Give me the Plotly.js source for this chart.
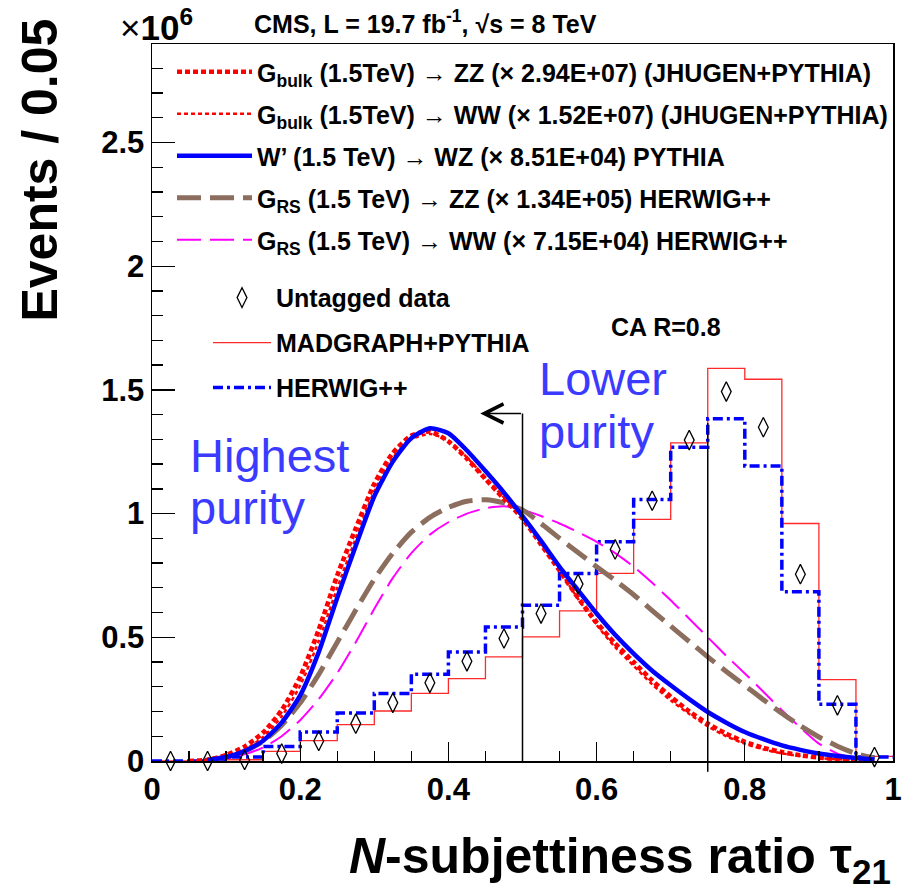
<!DOCTYPE html>
<html>
<head>
<meta charset="utf-8">
<script src="https://cdn.plot.ly/plotly-3.0.1.min.js"></script>
<style>html,body{margin:0;padding:0;background:#fff;}#chart{width:908px;height:891px;}</style>
</head>
<body>
<div id="chart"></div>
<script>
// ---- Data (y values in units of 10^6 events per 0.05) ----
const binEdges = [0,0.05,0.1,0.15,0.2,0.25,0.3,0.35,0.4,0.45,0.5,0.55,0.6,0.65,0.7,0.75,0.8,0.85,0.9,0.95,1.0];
const madgraphPythia = [0,0,0.005,0.039,0.082,0.147,0.202,0.273,0.333,0.421,0.502,0.607,0.758,0.977,1.286,1.587,1.543,0.960,0.329,0.019];
const herwigPP       = [0,0,0.016,0.059,0.117,0.194,0.273,0.351,0.441,0.542,0.630,0.758,0.886,1.057,1.268,1.383,1.192,0.684,0.229,0.016];
const untaggedData   = [0,0,0.004,0.030,0.081,0.151,0.235,0.316,0.403,0.495,0.596,0.715,0.855,1.052,1.297,1.493,1.349,0.755,0.225,0.016];

const sigX = [0.05,0.075,0.1,0.125,0.15,0.175,0.2,0.225,0.25,0.275,0.3,0.325,0.35,0.375,0.4,0.425,0.45,0.475,0.5,0.525,0.55,0.575,0.6,0.625,0.65,0.675,0.7,0.725,0.75,0.775,0.8,0.825,0.85,0.875,0.9,0.925,0.95,0.975,1.0];
const gbulkZZ  = [0,0.005,0.024,0.058,0.115,0.205,0.34,0.53,0.75,0.94,1.12,1.245,1.315,1.332,1.292,1.222,1.14,1.06,0.98,0.875,0.77,0.66,0.56,0.475,0.4,0.325,0.26,0.2,0.151,0.11,0.077,0.053,0.036,0.023,0.014,0.008,0.005,0.002,null];
const gbulkWW  = [0,0.004,0.018,0.046,0.097,0.18,0.305,0.485,0.7,0.9,1.09,1.225,1.3,1.322,1.295,1.227,1.145,1.065,0.985,0.88,0.77,0.655,0.55,0.46,0.385,0.31,0.245,0.19,0.14,0.1,0.07,0.047,0.031,0.02,0.012,0.007,0.004,0.002,null];
const wprimeWZ = [null,0.003,0.016,0.04,0.082,0.155,0.265,0.44,0.66,0.87,1.07,1.21,1.305,1.345,1.325,1.255,1.172,1.085,0.99,0.89,0.785,0.69,0.596,0.51,0.434,0.365,0.306,0.25,0.198,0.155,0.117,0.088,0.063,0.045,0.03,0.02,0.012,0.006,null];
const grsZZ    = [null,0.004,0.016,0.04,0.08,0.145,0.235,0.35,0.48,0.61,0.735,0.84,0.925,0.985,1.025,1.05,1.056,1.043,1.015,0.96,0.9,0.843,0.785,0.73,0.672,0.608,0.545,0.483,0.421,0.362,0.305,0.248,0.193,0.142,0.097,0.06,0.03,0.012,null];
const grsWW    = [null,0.002,0.009,0.027,0.055,0.1,0.165,0.25,0.355,0.48,0.615,0.74,0.84,0.915,0.965,1.0,1.022,1.03,1.015,0.99,0.96,0.925,0.886,0.84,0.785,0.72,0.65,0.575,0.5,0.425,0.354,0.28,0.205,0.135,0.07,0.03,0.01,null,null];

const cutValues = [0.5, 0.75];
const cutTops = [1.405, 1.366];
const arrowTip = 0.443;

const seriesNames = [
  'G<sub>bulk</sub> (1.5TeV) → ZZ (× 2.94E+07) (JHUGEN+PYTHIA)',
  'G<sub>bulk</sub> (1.5TeV) → WW (× 1.52E+07) (JHUGEN+PYTHIA)',
  'W’ (1.5 TeV) → WZ (× 8.51E+04) PYTHIA',
  'G<sub>RS</sub> (1.5 TeV) → ZZ (× 1.34E+05) HERWIG++',
  'G<sub>RS</sub> (1.5 TeV) → WW (× 7.15E+04) HERWIG++',
  'Untagged data',
  'MADGRAPH+PYTHIA',
  'HERWIG++'
];

// ---- derived ----
const binWidth = binEdges[1] - binEdges[0];
const binCenters = binEdges.slice(0, -1).map(e => e + binWidth / 2);
const stepY = arr => arr.concat([arr[arr.length - 1]]);

const FONT = 'Liberation Sans, Arial, Helvetica, sans-serif';
const yMax = 2.898;

const traces = [
  {x: binEdges, y: stepY(madgraphPythia), mode: 'lines', line: {shape: 'hv', color: '#ff2a2a', width: 1.3},
   name: seriesNames[6], legend: 'legend2', legendgroup: 'g', legendrank: 2},
  {x: binEdges, y: stepY(herwigPP), mode: 'lines', line: {shape: 'hv', color: '#0000ff', width: 3.5, dash: '10px,4px,3px,4px'},
   name: seriesNames[7], legend: 'legend2', legendgroup: 'h', legendrank: 3},
  {x: sigX, y: grsWW, mode: 'lines', line: {shape: 'spline', smoothing: 0.6, color: '#ff00ff', width: 2, dash: '24px,9px'},
   name: seriesNames[4], legend: 'legend', legendgroup: 'e', legendrank: 5},
  {x: sigX, y: grsZZ, mode: 'lines', line: {shape: 'spline', smoothing: 0.6, color: '#8c6e5e', width: 5, dash: '24px,9px'},
   name: seriesNames[3], legend: 'legend', legendgroup: 'd', legendrank: 4},
  {x: sigX, y: gbulkWW, mode: 'lines', line: {shape: 'spline', smoothing: 0.6, color: '#ff0000', width: 2.5, dash: '4px,3px'},
   name: seriesNames[1], legend: 'legend', legendgroup: 'b', legendrank: 2},
  {x: sigX, y: gbulkZZ, mode: 'lines', line: {shape: 'spline', smoothing: 0.6, color: '#ff0000', width: 4.7, dash: '5px,3px'},
   name: seriesNames[0], legend: 'legend', legendgroup: 'a', legendrank: 1},
  {x: sigX, y: wprimeWZ, mode: 'lines', line: {shape: 'spline', smoothing: 0.6, color: '#0000ff', width: 4.5},
   name: seriesNames[2], legend: 'legend', legendgroup: 'c', legendrank: 3},
  {x: binCenters, y: untaggedData, mode: 'markers',
   marker: {symbol: 'diamond-tall-open', size: 14, color: '#000', line: {width: 1.3, color: '#000'}},
   name: seriesNames[5], legend: 'legend2', legendgroup: 'f', legendrank: 1, cliponaxis: false}
];

const blueText = '#3b3bff';
const layout = {
  width: 908, height: 891,
  margin: {l: 152, r: 15, t: 44, b: 130},
  paper_bgcolor: '#fff', plot_bgcolor: '#fff',
  font: {family: FONT, color: '#000'},
  showlegend: true,
  xaxis: {
    range: [0, 1], showgrid: false, zeroline: false,
    showline: true, linecolor: '#000', linewidth: 1.5, mirror: true,
    ticks: 'inside', ticklen: 19, tickwidth: 1.3, tickcolor: '#000',
    tick0: 0, dtick: 0.2,
    minor: {ticks: 'inside', dtick: 0.05, ticklen: 10, tickwidth: 1.3, tickcolor: '#000', showgrid: false},
    tickfont: {family: FONT, size: 31, color: '#000', weight: 'bold'}
  },
  yaxis: {
    range: [0, yMax], showgrid: false, zeroline: false,
    showline: true, linecolor: '#000', linewidth: 1.5, mirror: true,
    ticks: 'inside', ticklen: 23, tickwidth: 1.3, tickcolor: '#000',
    tick0: 0, dtick: 0.5,
    minor: {ticks: 'inside', dtick: 0.1, ticklen: 11, tickwidth: 1.3, tickcolor: '#000', showgrid: false},
    tickfont: {family: FONT, size: 31, color: '#000', weight: 'bold'}
  },
  legend: {
    x: 0.027, xanchor: 'left', y: 0.993, yanchor: 'top',
    bgcolor: 'rgba(0,0,0,0)', borderwidth: 0, itemwidth: 75,
    tracegroupgap: 6.5, traceorder: 'grouped',
    font: {family: FONT, size: 25, color: '#000', weight: 'bold'}
  },
  legend2: {
    x: 0.0756, xanchor: 'left', y: 0.678, yanchor: 'top',
    bgcolor: 'rgba(0,0,0,0)', borderwidth: 0, itemwidth: 58,
    tracegroupgap: 9.5, traceorder: 'grouped',
    font: {family: FONT, size: 25, color: '#000', weight: 'bold'}
  },
  shapes: [
    {type: 'line', xref: 'paper', yref: 'paper', x0: cutValues[0], x1: cutValues[0], y0: 0, y1: cutTops[0] / yMax,
     line: {color: '#000', width: 1.5}},
    {type: 'line', xref: 'paper', yref: 'paper', x0: cutValues[1], x1: cutValues[1], y0: -0.015, y1: cutTops[1] / yMax,
     line: {color: '#000', width: 1.5}}
  ],
  annotations: [
    {xref: 'x', yref: 'y', x: arrowTip, y: cutTops[0], axref: 'x', ayref: 'y', ax: cutValues[0], ay: cutTops[0],
     text: '', showarrow: true, arrowhead: 5, arrowsize: 2.5, arrowwidth: 1.5, arrowcolor: '#000'},
    {xref: 'paper', yref: 'paper', x: 0.135, y: 1.031, xanchor: 'left', yanchor: 'middle', showarrow: false,
     text: '<b>CMS, L = 19.7 fb<sup>-1</sup>, √s = 8 TeV</b>', font: {family: FONT, size: 25, color: '#000'}},
    {xref: 'paper', yref: 'paper', x: -0.046, y: 1.027, xanchor: 'left', yanchor: 'middle', showarrow: false,
     text: '×<b>10<sup>6</sup></b>', font: {family: FONT, size: 35, color: '#000'}},
    {xref: 'paper', yref: 'paper', x: -0.151, y: 1.0377, xanchor: 'center', yanchor: 'top', showarrow: false, textangle: -90,
     text: '<b>Events / 0.05</b>', font: {family: FONT, size: 50, color: '#000'}},
    {xref: 'paper', yref: 'paper', x: 1.0, y: -0.138, xanchor: 'right', yanchor: 'middle', showarrow: false,
     text: '<b><i>N</i>-subjettiness ratio τ<sub>21</sub></b>', font: {family: FONT, size: 50, color: '#000'}},
    {xref: 'paper', yref: 'paper', x: 0.617, y: 0.6057, xanchor: 'left', yanchor: 'middle', showarrow: false,
     text: '<b>CA R=0.8</b>', font: {family: FONT, size: 25, color: '#000'}},
    {xref: 'x', yref: 'y', x: 0.049, y: 1.235, xanchor: 'left', yanchor: 'middle', showarrow: false,
     text: 'Highest', font: {family: FONT, size: 47, color: blueText}},
    {xref: 'x', yref: 'y', x: 0.049, y: 1.026, xanchor: 'left', yanchor: 'middle', showarrow: false,
     text: 'purity', font: {family: FONT, size: 47, color: blueText}},
    {xref: 'x', yref: 'y', x: 0.52, y: 1.545, xanchor: 'left', yanchor: 'middle', showarrow: false,
     text: 'Lower', font: {family: FONT, size: 47, color: blueText}},
    {xref: 'x', yref: 'y', x: 0.52, y: 1.331, xanchor: 'left', yanchor: 'middle', showarrow: false,
     text: 'purity', font: {family: FONT, size: 47, color: blueText}}
  ]
};

Plotly.newPlot('chart', traces, layout, {displayModeBar: false, staticPlot: true});
</script>
</body>
</html>
